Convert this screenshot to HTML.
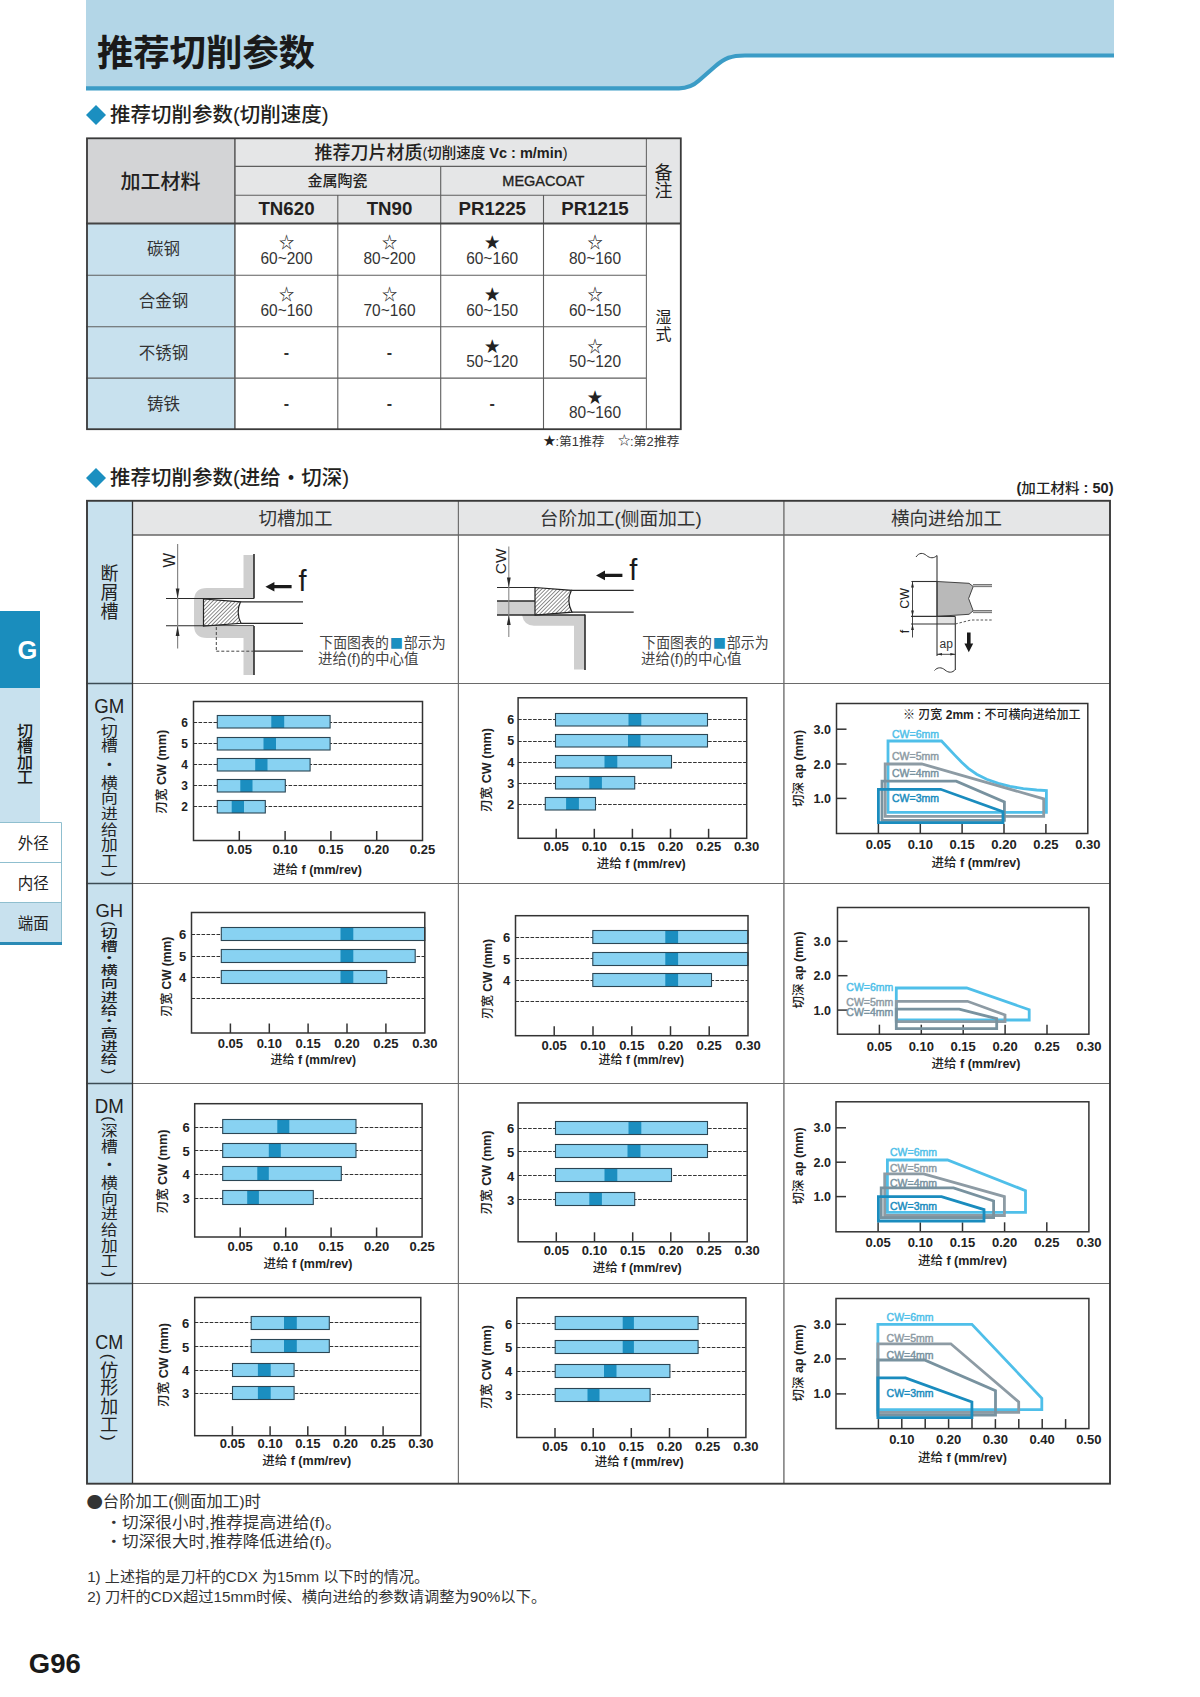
<!DOCTYPE html>
<html><head><meta charset="utf-8"><title>推荐切削参数</title>
<style>
html,body{margin:0;padding:0;background:#fff}
body{width:1200px;height:1697px;position:relative;overflow:hidden;font-family:"Liberation Sans", "Noto Sans CJK SC", sans-serif;color:#231f20}
</style></head><body>
<svg style="position:absolute;left:0;top:0" width="1200" height="1697" viewBox="0 0 1200 1697">
<path d="M86 0 H1114 V55 H745 C731 55 725 58 715 66 L699 80 C693 86 687 88 679 88 H86 Z" fill="#b3d6e7"/>
<path d="M86 88.3 H679 C687 88.3 693 86 699 80.5 L715 66.5 C725 58 731 55.5 745 55.5 H1114" fill="none" stroke="#3b9cc6" stroke-width="4.2"/>
<path d="M96 105 L106 115 L96 125 L86 115 Z" fill="#1b8fc0"/>
<path d="M96 468 L106 478 L96 488 L86 478 Z" fill="#1b8fc0"/>
<rect x="86" y="138" width="149" height="86" fill="#d3d4d6" />
<rect x="235" y="138" width="446" height="86" fill="#e5e6e7" />
<rect x="86" y="223" width="149" height="206" fill="#c8e1ee" />
<line x1="234.9" y1="138" x2="234.9" y2="429" stroke="#555" stroke-width="1.5" />
<line x1="235" y1="166.4" x2="646" y2="166.4" stroke="#5e5e5e" stroke-width="1.1" />
<line x1="235" y1="195.3" x2="646" y2="195.3" stroke="#5e5e5e" stroke-width="1.1" />
<line x1="440.7" y1="166" x2="440.7" y2="429" stroke="#5e5e5e" stroke-width="1.1" />
<line x1="337.8" y1="195" x2="337.8" y2="429" stroke="#5e5e5e" stroke-width="1.1" />
<line x1="543.5" y1="195" x2="543.5" y2="429" stroke="#5e5e5e" stroke-width="1.1" />
<line x1="646.4" y1="138" x2="646.4" y2="429" stroke="#6a6a6a" stroke-width="1.1" />
<line x1="86" y1="223.5" x2="681" y2="223.5" stroke="#444" stroke-width="1.8" />
<line x1="86" y1="275.3" x2="646" y2="275.3" stroke="#5e5e5e" stroke-width="1.1" />
<line x1="86" y1="326.8" x2="646" y2="326.8" stroke="#5e5e5e" stroke-width="1.1" />
<line x1="86" y1="378.1" x2="646" y2="378.1" stroke="#5e5e5e" stroke-width="1.1" />
<rect x="87" y="138.3" width="593.8" height="290.9" fill="none" stroke="#3a3a3a" stroke-width="1.8"/>
<text x="160.5" y="181.5" font-size="20" font-weight="500" text-anchor="middle" dominant-baseline="central" fill="#231f20" >加工材料</text>
<text x="441.0" y="153.0" font-size="18" font-weight="500" text-anchor="middle" dominant-baseline="central" fill="#231f20"  textLength="253" lengthAdjust="spacingAndGlyphs">推荐刀片材质<tspan font-size="14.5">(切削速度 <tspan font-weight="700">Vc : m/min</tspan>)</tspan></text>
<text x="337.5" y="180.5" font-size="15" font-weight="500" text-anchor="middle" dominant-baseline="central" fill="#231f20" >金属陶瓷</text>
<text x="543.3" y="180.8" font-size="14.5" font-weight="400" text-anchor="middle" dominant-baseline="central" fill="#231f20"  stroke="#231f20" stroke-width="0.35">MEGACOAT</text>
<text x="286.5" y="208.5" font-size="18.7" font-weight="700" text-anchor="middle" dominant-baseline="central" fill="#231f20" >TN620</text>
<text x="389.5" y="208.5" font-size="18.7" font-weight="700" text-anchor="middle" dominant-baseline="central" fill="#231f20" >TN90</text>
<text x="492.2" y="208.5" font-size="18.7" font-weight="700" text-anchor="middle" dominant-baseline="central" fill="#231f20" >PR1225</text>
<text x="595.0" y="208.5" font-size="18.7" font-weight="700" text-anchor="middle" dominant-baseline="central" fill="#231f20" >PR1215</text>
<text x="663.5" y="173.3" font-size="18" font-weight="400" text-anchor="middle" dominant-baseline="central" fill="#231f20" >备</text>
<text x="663.5" y="191.3" font-size="18" font-weight="400" text-anchor="middle" dominant-baseline="central" fill="#231f20" >注</text>
<text x="663.5" y="317.0" font-size="16" font-weight="400" text-anchor="middle" dominant-baseline="central" fill="#231f20" >湿</text>
<text x="663.5" y="334.0" font-size="16" font-weight="400" text-anchor="middle" dominant-baseline="central" fill="#231f20" >式</text>
<text x="163.5" y="249.4" font-size="16.5" font-weight="400" text-anchor="middle" dominant-baseline="central" fill="#333" >碳钢</text>
<text x="286.5" y="242.9" font-size="15.5" font-weight="400" text-anchor="middle" dominant-baseline="central" fill="#222" >☆</text>
<text x="286.5" y="257.9" font-size="16.5" font-weight="400" text-anchor="middle" dominant-baseline="central" fill="#333"  textLength="52" lengthAdjust="spacingAndGlyphs">60~200</text>
<text x="389.5" y="242.9" font-size="15.5" font-weight="400" text-anchor="middle" dominant-baseline="central" fill="#222" >☆</text>
<text x="389.5" y="257.9" font-size="16.5" font-weight="400" text-anchor="middle" dominant-baseline="central" fill="#333"  textLength="52" lengthAdjust="spacingAndGlyphs">80~200</text>
<text x="492.2" y="242.9" font-size="15.5" font-weight="400" text-anchor="middle" dominant-baseline="central" fill="#222" >★</text>
<text x="492.2" y="257.9" font-size="16.5" font-weight="400" text-anchor="middle" dominant-baseline="central" fill="#333"  textLength="52" lengthAdjust="spacingAndGlyphs">60~160</text>
<text x="595.0" y="242.9" font-size="15.5" font-weight="400" text-anchor="middle" dominant-baseline="central" fill="#222" >☆</text>
<text x="595.0" y="257.9" font-size="16.5" font-weight="400" text-anchor="middle" dominant-baseline="central" fill="#333"  textLength="52" lengthAdjust="spacingAndGlyphs">80~160</text>
<text x="163.5" y="301.1" font-size="16.5" font-weight="400" text-anchor="middle" dominant-baseline="central" fill="#333" >合金钢</text>
<text x="286.5" y="294.6" font-size="15.5" font-weight="400" text-anchor="middle" dominant-baseline="central" fill="#222" >☆</text>
<text x="286.5" y="309.6" font-size="16.5" font-weight="400" text-anchor="middle" dominant-baseline="central" fill="#333"  textLength="52" lengthAdjust="spacingAndGlyphs">60~160</text>
<text x="389.5" y="294.6" font-size="15.5" font-weight="400" text-anchor="middle" dominant-baseline="central" fill="#222" >☆</text>
<text x="389.5" y="309.6" font-size="16.5" font-weight="400" text-anchor="middle" dominant-baseline="central" fill="#333"  textLength="52" lengthAdjust="spacingAndGlyphs">70~160</text>
<text x="492.2" y="294.6" font-size="15.5" font-weight="400" text-anchor="middle" dominant-baseline="central" fill="#222" >★</text>
<text x="492.2" y="309.6" font-size="16.5" font-weight="400" text-anchor="middle" dominant-baseline="central" fill="#333"  textLength="52" lengthAdjust="spacingAndGlyphs">60~150</text>
<text x="595.0" y="294.6" font-size="15.5" font-weight="400" text-anchor="middle" dominant-baseline="central" fill="#222" >☆</text>
<text x="595.0" y="309.6" font-size="16.5" font-weight="400" text-anchor="middle" dominant-baseline="central" fill="#333"  textLength="52" lengthAdjust="spacingAndGlyphs">60~150</text>
<text x="163.5" y="352.5" font-size="16.5" font-weight="400" text-anchor="middle" dominant-baseline="central" fill="#333" >不锈钢</text>
<text x="286.5" y="352.5" font-size="16" font-weight="700" text-anchor="middle" dominant-baseline="central" fill="#333" >-</text>
<text x="389.5" y="352.5" font-size="16" font-weight="700" text-anchor="middle" dominant-baseline="central" fill="#333" >-</text>
<text x="492.2" y="346.0" font-size="15.5" font-weight="400" text-anchor="middle" dominant-baseline="central" fill="#222" >★</text>
<text x="492.2" y="361.0" font-size="16.5" font-weight="400" text-anchor="middle" dominant-baseline="central" fill="#333"  textLength="52" lengthAdjust="spacingAndGlyphs">50~120</text>
<text x="595.0" y="346.0" font-size="15.5" font-weight="400" text-anchor="middle" dominant-baseline="central" fill="#222" >☆</text>
<text x="595.0" y="361.0" font-size="16.5" font-weight="400" text-anchor="middle" dominant-baseline="central" fill="#333"  textLength="52" lengthAdjust="spacingAndGlyphs">50~120</text>
<text x="163.5" y="403.6" font-size="16.5" font-weight="400" text-anchor="middle" dominant-baseline="central" fill="#333" >铸铁</text>
<text x="286.5" y="403.6" font-size="16" font-weight="700" text-anchor="middle" dominant-baseline="central" fill="#333" >-</text>
<text x="389.5" y="403.6" font-size="16" font-weight="700" text-anchor="middle" dominant-baseline="central" fill="#333" >-</text>
<text x="492.2" y="403.6" font-size="16" font-weight="700" text-anchor="middle" dominant-baseline="central" fill="#333" >-</text>
<text x="595.0" y="397.1" font-size="15.5" font-weight="400" text-anchor="middle" dominant-baseline="central" fill="#222" >★</text>
<text x="595.0" y="412.1" font-size="16.5" font-weight="400" text-anchor="middle" dominant-baseline="central" fill="#333"  textLength="52" lengthAdjust="spacingAndGlyphs">80~160</text>
<text x="549.6" y="441.2" font-size="12.5" font-weight="400" text-anchor="middle" dominant-baseline="central" fill="#222" >★</text>
<text x="555.5" y="442.0" font-size="12.5" font-weight="400" text-anchor="start" dominant-baseline="central" fill="#333"  textLength="49" lengthAdjust="spacingAndGlyphs">:第1推荐</text>
<text x="624.3" y="441.2" font-size="12.5" font-weight="400" text-anchor="middle" dominant-baseline="central" fill="#222" >☆</text>
<text x="630.0" y="442.0" font-size="12.5" font-weight="400" text-anchor="start" dominant-baseline="central" fill="#333"  textLength="49.5" lengthAdjust="spacingAndGlyphs">:第2推荐</text>
<rect x="86" y="500" width="47" height="983" fill="#c8e1ee" />
<rect x="133" y="500" width="977" height="35" fill="#e5e6e7" />
<line x1="458.4" y1="500" x2="458.4" y2="1483" stroke="#707070" stroke-width="1.2" />
<line x1="783.9" y1="500" x2="783.9" y2="1483" stroke="#707070" stroke-width="1.4" />
<line x1="133" y1="534.9" x2="1110" y2="534.9" stroke="#666" stroke-width="1.5" />
<line x1="133" y1="683.5" x2="1110" y2="683.5" stroke="#6a6a6a" stroke-width="1.2" />
<line x1="86" y1="683.5" x2="133" y2="683.5" stroke="#3c4c54" stroke-width="1.3" />
<line x1="133" y1="883.5" x2="1110" y2="883.5" stroke="#6a6a6a" stroke-width="1.2" />
<line x1="86" y1="883.5" x2="133" y2="883.5" stroke="#3c4c54" stroke-width="1.3" />
<line x1="133" y1="1083.5" x2="1110" y2="1083.5" stroke="#6a6a6a" stroke-width="1.2" />
<line x1="86" y1="1083.5" x2="133" y2="1083.5" stroke="#3c4c54" stroke-width="1.3" />
<line x1="133" y1="1283.5" x2="1110" y2="1283.5" stroke="#6a6a6a" stroke-width="1.2" />
<line x1="86" y1="1283.5" x2="133" y2="1283.5" stroke="#3c4c54" stroke-width="1.3" />
<line x1="132.5" y1="500" x2="132.5" y2="1483" stroke="#333" stroke-width="1.3" />
<text x="295.5" y="518.5" font-size="18.5" font-weight="400" text-anchor="middle" dominant-baseline="central" fill="#333" >切槽加工</text>
<text x="620.8" y="518.5" font-size="18.5" font-weight="400" text-anchor="middle" dominant-baseline="central" fill="#333"  textLength="162" lengthAdjust="spacingAndGlyphs">台阶加工(侧面加工)</text>
<text x="946.5" y="518.5" font-size="18.5" font-weight="400" text-anchor="middle" dominant-baseline="central" fill="#333" >横向进给加工</text>
<text x="1113.5" y="488.0" font-size="14" font-weight="700" text-anchor="end" dominant-baseline="central" fill="#222"  textLength="97" lengthAdjust="spacingAndGlyphs">(<tspan font-weight="500">加工材料</tspan> : 50)</text>
<line x1="193.5" y1="722.5" x2="422.5" y2="722.5" stroke="#333333" stroke-width="1.2" stroke-dasharray="3.6 1.4"/>
<line x1="193.5" y1="743.5" x2="422.5" y2="743.5" stroke="#333333" stroke-width="1.2" stroke-dasharray="3.6 1.4"/>
<line x1="193.5" y1="764.5" x2="422.5" y2="764.5" stroke="#333333" stroke-width="1.2" stroke-dasharray="3.6 1.4"/>
<line x1="193.5" y1="785.5" x2="422.5" y2="785.5" stroke="#333333" stroke-width="1.2" stroke-dasharray="3.6 1.4"/>
<line x1="193.5" y1="806.5" x2="422.5" y2="806.5" stroke="#333333" stroke-width="1.2" stroke-dasharray="3.6 1.4"/>
<rect x="217.3" y="715.5" width="112.8" height="12.5" fill="#88d2f2" />
<rect x="271.3" y="715.5" width="12.9" height="12.5" fill="#1b8ec0" />
<rect x="217.3" y="715.5" width="112.8" height="12.5" fill="none" stroke="#2b4654" stroke-width="1.1"/>
<text x="184.5" y="722.7" font-size="12" font-weight="700" text-anchor="middle" dominant-baseline="central" fill="#222" >6</text>
<rect x="217.3" y="737.5" width="112.8" height="12.5" fill="#88d2f2" />
<rect x="263.5" y="737.5" width="12.5" height="12.5" fill="#1b8ec0" />
<rect x="217.3" y="737.5" width="112.8" height="12.5" fill="none" stroke="#2b4654" stroke-width="1.1"/>
<text x="184.5" y="744.1" font-size="12" font-weight="700" text-anchor="middle" dominant-baseline="central" fill="#222" >5</text>
<rect x="217.3" y="758.5" width="92.8" height="12.5" fill="#88d2f2" />
<rect x="255.2" y="758.5" width="12.3" height="12.5" fill="#1b8ec0" />
<rect x="217.3" y="758.5" width="92.8" height="12.5" fill="none" stroke="#2b4654" stroke-width="1.1"/>
<text x="184.5" y="765.2" font-size="12" font-weight="700" text-anchor="middle" dominant-baseline="central" fill="#222" >4</text>
<rect x="217.3" y="779.5" width="68.0" height="12.5" fill="#88d2f2" />
<rect x="240.3" y="779.5" width="12.2" height="12.5" fill="#1b8ec0" />
<rect x="217.3" y="779.5" width="68.0" height="12.5" fill="none" stroke="#2b4654" stroke-width="1.1"/>
<text x="184.5" y="786.2" font-size="12" font-weight="700" text-anchor="middle" dominant-baseline="central" fill="#222" >3</text>
<rect x="217.3" y="800.5" width="48.0" height="12.5" fill="#88d2f2" />
<rect x="231.7" y="800.5" width="12.3" height="12.5" fill="#1b8ec0" />
<rect x="217.3" y="800.5" width="48.0" height="12.5" fill="none" stroke="#2b4654" stroke-width="1.1"/>
<text x="184.5" y="807.3" font-size="12" font-weight="700" text-anchor="middle" dominant-baseline="central" fill="#222" >2</text>
<rect x="193.5" y="701.5" width="229.0" height="139.0" fill="none" stroke="#333333" stroke-width="1.5"/>
<line x1="239.3" y1="840.5" x2="239.3" y2="831.0" stroke="#333333" stroke-width="1.5" />
<line x1="285.1" y1="840.5" x2="285.1" y2="831.0" stroke="#333333" stroke-width="1.5" />
<line x1="330.9" y1="840.5" x2="330.9" y2="831.0" stroke="#333333" stroke-width="1.5" />
<line x1="376.7" y1="840.5" x2="376.7" y2="831.0" stroke="#333333" stroke-width="1.5" />
<text x="239.3" y="849.0" font-size="13" font-weight="700" text-anchor="middle" dominant-baseline="central" fill="#222" >0.05</text>
<text x="285.1" y="849.0" font-size="13" font-weight="700" text-anchor="middle" dominant-baseline="central" fill="#222" >0.10</text>
<text x="330.9" y="849.0" font-size="13" font-weight="700" text-anchor="middle" dominant-baseline="central" fill="#222" >0.15</text>
<text x="376.7" y="849.0" font-size="13" font-weight="700" text-anchor="middle" dominant-baseline="central" fill="#222" >0.20</text>
<text x="422.5" y="849.0" font-size="13" font-weight="700" text-anchor="middle" dominant-baseline="central" fill="#222" >0.25</text>
<text x="317.5" y="869.5" font-size="12.5" font-weight="700" text-anchor="middle" dominant-baseline="central" fill="#222" ><tspan font-weight="500">进给</tspan> f (mm/rev)</text>
<text x="162.0" y="771.8" font-size="12.5" font-weight="700" text-anchor="middle" dominant-baseline="central" fill="#222" transform="rotate(-90 162 771.8)" textLength="84" lengthAdjust="spacingAndGlyphs"><tspan font-weight="500">刃宽</tspan> CW (mm)</text>
<line x1="518.1" y1="719.5" x2="746.7" y2="719.5" stroke="#333333" stroke-width="1.2" stroke-dasharray="3.6 1.4"/>
<line x1="518.1" y1="741.5" x2="746.7" y2="741.5" stroke="#333333" stroke-width="1.2" stroke-dasharray="3.6 1.4"/>
<line x1="518.1" y1="762.5" x2="746.7" y2="762.5" stroke="#333333" stroke-width="1.2" stroke-dasharray="3.6 1.4"/>
<line x1="518.1" y1="783.5" x2="746.7" y2="783.5" stroke="#333333" stroke-width="1.2" stroke-dasharray="3.6 1.4"/>
<line x1="518.1" y1="804.5" x2="746.7" y2="804.5" stroke="#333333" stroke-width="1.2" stroke-dasharray="3.6 1.4"/>
<rect x="555.5" y="713.5" width="152.0" height="12.5" fill="#88d2f2" />
<rect x="628.5" y="713.5" width="12.8" height="12.5" fill="#1b8ec0" />
<rect x="555.5" y="713.5" width="152.0" height="12.5" fill="none" stroke="#2b4654" stroke-width="1.1"/>
<text x="510.7" y="720.1" font-size="12.5" font-weight="700" text-anchor="middle" dominant-baseline="central" fill="#222" >6</text>
<rect x="555.5" y="734.5" width="152.0" height="12.5" fill="#88d2f2" />
<rect x="628.0" y="734.5" width="12.5" height="12.5" fill="#1b8ec0" />
<rect x="555.5" y="734.5" width="152.0" height="12.5" fill="none" stroke="#2b4654" stroke-width="1.1"/>
<text x="510.7" y="741.4" font-size="12.5" font-weight="700" text-anchor="middle" dominant-baseline="central" fill="#222" >5</text>
<rect x="555.5" y="755.5" width="116.0" height="12.5" fill="#88d2f2" />
<rect x="604.5" y="755.5" width="12.8" height="12.5" fill="#1b8ec0" />
<rect x="555.5" y="755.5" width="116.0" height="12.5" fill="none" stroke="#2b4654" stroke-width="1.1"/>
<text x="510.7" y="762.7" font-size="12.5" font-weight="700" text-anchor="middle" dominant-baseline="central" fill="#222" >4</text>
<rect x="555.5" y="776.5" width="79.2" height="12.5" fill="#88d2f2" />
<rect x="589.3" y="776.5" width="12.6" height="12.5" fill="#1b8ec0" />
<rect x="555.5" y="776.5" width="79.2" height="12.5" fill="none" stroke="#2b4654" stroke-width="1.1"/>
<text x="510.7" y="783.5" font-size="12.5" font-weight="700" text-anchor="middle" dominant-baseline="central" fill="#222" >3</text>
<rect x="545.3" y="797.5" width="50.2" height="12.5" fill="#88d2f2" />
<rect x="566.1" y="797.5" width="12.8" height="12.5" fill="#1b8ec0" />
<rect x="545.3" y="797.5" width="50.2" height="12.5" fill="none" stroke="#2b4654" stroke-width="1.1"/>
<text x="510.7" y="804.6" font-size="12.5" font-weight="700" text-anchor="middle" dominant-baseline="central" fill="#222" >2</text>
<rect x="518.1" y="697.8" width="228.6" height="140.5" fill="none" stroke="#333333" stroke-width="1.5"/>
<line x1="556.2" y1="838.3" x2="556.2" y2="828.8" stroke="#333333" stroke-width="1.5" />
<line x1="594.3" y1="838.3" x2="594.3" y2="828.8" stroke="#333333" stroke-width="1.5" />
<line x1="632.4" y1="838.3" x2="632.4" y2="828.8" stroke="#333333" stroke-width="1.5" />
<line x1="670.5" y1="838.3" x2="670.5" y2="828.8" stroke="#333333" stroke-width="1.5" />
<line x1="708.6" y1="838.3" x2="708.6" y2="828.8" stroke="#333333" stroke-width="1.5" />
<text x="556.2" y="846.3" font-size="13" font-weight="700" text-anchor="middle" dominant-baseline="central" fill="#222" >0.05</text>
<text x="594.3" y="846.3" font-size="13" font-weight="700" text-anchor="middle" dominant-baseline="central" fill="#222" >0.10</text>
<text x="632.4" y="846.3" font-size="13" font-weight="700" text-anchor="middle" dominant-baseline="central" fill="#222" >0.15</text>
<text x="670.5" y="846.3" font-size="13" font-weight="700" text-anchor="middle" dominant-baseline="central" fill="#222" >0.20</text>
<text x="708.6" y="846.3" font-size="13" font-weight="700" text-anchor="middle" dominant-baseline="central" fill="#222" >0.25</text>
<text x="746.7" y="846.3" font-size="13" font-weight="700" text-anchor="middle" dominant-baseline="central" fill="#222" >0.30</text>
<text x="641.3" y="863.7" font-size="12.5" font-weight="700" text-anchor="middle" dominant-baseline="central" fill="#222" ><tspan font-weight="500">进给</tspan> f (mm/rev)</text>
<text x="486.7" y="770.0" font-size="12.5" font-weight="700" text-anchor="middle" dominant-baseline="central" fill="#222" transform="rotate(-90 486.7 770)" textLength="84" lengthAdjust="spacingAndGlyphs"><tspan font-weight="500">刃宽</tspan> CW (mm)</text>
<rect x="836.5" y="703.5" width="251.3" height="130.0" fill="none" stroke="#333333" stroke-width="1.5"/>
<line x1="878.4" y1="833.5" x2="878.4" y2="824.0" stroke="#333333" stroke-width="1.5" />
<line x1="920.3" y1="833.5" x2="920.3" y2="824.0" stroke="#333333" stroke-width="1.5" />
<line x1="962.1" y1="833.5" x2="962.1" y2="824.0" stroke="#333333" stroke-width="1.5" />
<line x1="1004.0" y1="833.5" x2="1004.0" y2="824.0" stroke="#333333" stroke-width="1.5" />
<line x1="1045.9" y1="833.5" x2="1045.9" y2="824.0" stroke="#333333" stroke-width="1.5" />
<line x1="836.5" y1="729.2" x2="846.5" y2="729.2" stroke="#333333" stroke-width="1.5" />
<text x="831.0" y="729.7" font-size="12.5" font-weight="700" text-anchor="end" dominant-baseline="central" fill="#222" >3.0</text>
<line x1="836.5" y1="764.0" x2="846.5" y2="764.0" stroke="#333333" stroke-width="1.5" />
<text x="831.0" y="764.5" font-size="12.5" font-weight="700" text-anchor="end" dominant-baseline="central" fill="#222" >2.0</text>
<line x1="836.5" y1="798.4" x2="846.5" y2="798.4" stroke="#333333" stroke-width="1.5" />
<text x="831.0" y="798.9" font-size="12.5" font-weight="700" text-anchor="end" dominant-baseline="central" fill="#222" >1.0</text>
<polygon points="888.0,741.0 941.5,741.0 948.3,748.2 955.0,755.4 961.7,762.3 968.3,768.4 976.7,774.2 986.7,779.2 998.3,783.3 1010.0,786.3 1023.3,788.7 1036.7,790.0 1046.4,790.6 1046.4,812.3 888.0,812.3" fill="none" stroke="#4fbfe9" stroke-width="2.8" stroke-linejoin="miter"/>
<polygon points="885.2,764.0 921.8,764.0 1043.7,798.8 1043.7,816.4 885.2,816.4" fill="none" stroke="#8d9ba4" stroke-width="2.8" stroke-linejoin="miter"/>
<polygon points="882.0,781.2 956.2,781.2 1004.4,802.0 1004.4,820.4 882.0,820.4" fill="none" stroke="#78929f" stroke-width="2.8" stroke-linejoin="miter"/>
<polygon points="878.4,789.3 940.7,789.3 1003.0,811.8 1003.0,822.6 878.4,822.6" fill="none" stroke="#1a8cbe" stroke-width="2.8" stroke-linejoin="miter"/>
<text x="892.0" y="733.8" font-size="10.5" font-weight="500" text-anchor="start" dominant-baseline="central" fill="#4fbfe9"  stroke="#4fbfe9" stroke-width="0.45">CW=6mm</text>
<text x="892.0" y="756.0" font-size="10.5" font-weight="500" text-anchor="start" dominant-baseline="central" fill="#8d9ba4"  stroke="#8d9ba4" stroke-width="0.45">CW=5mm</text>
<text x="892.0" y="772.5" font-size="10.5" font-weight="500" text-anchor="start" dominant-baseline="central" fill="#78929f"  stroke="#78929f" stroke-width="0.45">CW=4mm</text>
<text x="892.0" y="798.2" font-size="10.5" font-weight="500" text-anchor="start" dominant-baseline="central" fill="#1a8cbe"  stroke="#1a8cbe" stroke-width="0.45">CW=3mm</text>
<text x="878.4" y="844.8" font-size="13" font-weight="700" text-anchor="middle" dominant-baseline="central" fill="#222" >0.05</text>
<text x="920.3" y="844.8" font-size="13" font-weight="700" text-anchor="middle" dominant-baseline="central" fill="#222" >0.10</text>
<text x="962.1" y="844.8" font-size="13" font-weight="700" text-anchor="middle" dominant-baseline="central" fill="#222" >0.15</text>
<text x="1004.0" y="844.8" font-size="13" font-weight="700" text-anchor="middle" dominant-baseline="central" fill="#222" >0.20</text>
<text x="1045.9" y="844.8" font-size="13" font-weight="700" text-anchor="middle" dominant-baseline="central" fill="#222" >0.25</text>
<text x="1087.8" y="844.8" font-size="13" font-weight="700" text-anchor="middle" dominant-baseline="central" fill="#222" >0.30</text>
<text x="976.0" y="863.0" font-size="12.5" font-weight="700" text-anchor="middle" dominant-baseline="central" fill="#222" ><tspan font-weight="500">进给</tspan> f (mm/rev)</text>
<text x="799.0" y="768.5" font-size="12.5" font-weight="700" text-anchor="middle" dominant-baseline="central" fill="#222" transform="rotate(-90 799 768.5)"><tspan font-weight="500">切深</tspan> ap (mm)</text>
<text x="903.0" y="715.0" font-size="12" font-weight="500" text-anchor="start" dominant-baseline="central" fill="#222" >※ <tspan font-weight="500">刃宽</tspan> <tspan font-weight="700">2mm :</tspan> 不可横向进给加工</text>
<line x1="191.5" y1="934.5" x2="424.8" y2="934.5" stroke="#333333" stroke-width="1.2" stroke-dasharray="3.6 1.4"/>
<line x1="191.5" y1="956.5" x2="424.8" y2="956.5" stroke="#333333" stroke-width="1.2" stroke-dasharray="3.6 1.4"/>
<line x1="191.5" y1="977.5" x2="424.8" y2="977.5" stroke="#333333" stroke-width="1.2" stroke-dasharray="3.6 1.4"/>
<line x1="191.5" y1="998.5" x2="424.8" y2="998.5" stroke="#333333" stroke-width="1.2" stroke-dasharray="3.6 1.4"/>
<rect x="221.3" y="927.5" width="203.5" height="13" fill="#88d2f2" />
<rect x="340.5" y="927.5" width="12.8" height="13" fill="#1b8ec0" />
<rect x="221.3" y="927.5" width="203.5" height="13" fill="none" stroke="#2b4654" stroke-width="1.1"/>
<text x="182.7" y="934.7" font-size="13" font-weight="700" text-anchor="middle" dominant-baseline="central" fill="#222" >6</text>
<rect x="221.3" y="949.5" width="193.9" height="13" fill="#88d2f2" />
<rect x="340.5" y="949.5" width="12.8" height="13" fill="#1b8ec0" />
<rect x="221.3" y="949.5" width="193.9" height="13" fill="none" stroke="#2b4654" stroke-width="1.1"/>
<text x="182.7" y="956.6" font-size="13" font-weight="700" text-anchor="middle" dominant-baseline="central" fill="#222" >5</text>
<rect x="221.3" y="970.5" width="165.4" height="13" fill="#88d2f2" />
<rect x="340.5" y="970.5" width="12.8" height="13" fill="#1b8ec0" />
<rect x="221.3" y="970.5" width="165.4" height="13" fill="none" stroke="#2b4654" stroke-width="1.1"/>
<text x="182.7" y="977.9" font-size="13" font-weight="700" text-anchor="middle" dominant-baseline="central" fill="#222" >4</text>
<rect x="191.5" y="912.5" width="233.3" height="120.5" fill="none" stroke="#333333" stroke-width="1.5"/>
<line x1="230.4" y1="1033" x2="230.4" y2="1023.5" stroke="#333333" stroke-width="1.5" />
<line x1="269.3" y1="1033" x2="269.3" y2="1023.5" stroke="#333333" stroke-width="1.5" />
<line x1="308.1" y1="1033" x2="308.1" y2="1023.5" stroke="#333333" stroke-width="1.5" />
<line x1="347.0" y1="1033" x2="347.0" y2="1023.5" stroke="#333333" stroke-width="1.5" />
<line x1="385.9" y1="1033" x2="385.9" y2="1023.5" stroke="#333333" stroke-width="1.5" />
<text x="230.4" y="1043.7" font-size="13" font-weight="700" text-anchor="middle" dominant-baseline="central" fill="#222" >0.05</text>
<text x="269.3" y="1043.7" font-size="13" font-weight="700" text-anchor="middle" dominant-baseline="central" fill="#222" >0.10</text>
<text x="308.1" y="1043.7" font-size="13" font-weight="700" text-anchor="middle" dominant-baseline="central" fill="#222" >0.15</text>
<text x="347.0" y="1043.7" font-size="13" font-weight="700" text-anchor="middle" dominant-baseline="central" fill="#222" >0.20</text>
<text x="385.9" y="1043.7" font-size="13" font-weight="700" text-anchor="middle" dominant-baseline="central" fill="#222" >0.25</text>
<text x="424.8" y="1043.7" font-size="13" font-weight="700" text-anchor="middle" dominant-baseline="central" fill="#222" >0.30</text>
<text x="313.3" y="1059.7" font-size="12" font-weight="700" text-anchor="middle" dominant-baseline="central" fill="#222" ><tspan font-weight="500">进给</tspan> f (mm/rev)</text>
<text x="166.7" y="976.8" font-size="12" font-weight="700" text-anchor="middle" dominant-baseline="central" fill="#222" transform="rotate(-90 166.7 976.8)"><tspan font-weight="500">刃宽</tspan> CW (mm)</text>
<line x1="515.5" y1="937.5" x2="748" y2="937.5" stroke="#333333" stroke-width="1.2" stroke-dasharray="3.6 1.4"/>
<line x1="515.5" y1="958.5" x2="748" y2="958.5" stroke="#333333" stroke-width="1.2" stroke-dasharray="3.6 1.4"/>
<line x1="515.5" y1="980.5" x2="748" y2="980.5" stroke="#333333" stroke-width="1.2" stroke-dasharray="3.6 1.4"/>
<line x1="515.5" y1="1001.5" x2="748" y2="1001.5" stroke="#333333" stroke-width="1.2" stroke-dasharray="3.6 1.4"/>
<rect x="592.8" y="930.5" width="155.2" height="13" fill="#88d2f2" />
<rect x="665.3" y="930.5" width="12.8" height="13" fill="#1b8ec0" />
<rect x="592.8" y="930.5" width="155.2" height="13" fill="none" stroke="#2b4654" stroke-width="1.1"/>
<text x="506.5" y="937.4" font-size="13" font-weight="700" text-anchor="middle" dominant-baseline="central" fill="#222" >6</text>
<rect x="592.8" y="952.5" width="155.2" height="13" fill="#88d2f2" />
<rect x="665.3" y="952.5" width="12.8" height="13" fill="#1b8ec0" />
<rect x="592.8" y="952.5" width="155.2" height="13" fill="none" stroke="#2b4654" stroke-width="1.1"/>
<text x="506.5" y="959.3" font-size="13" font-weight="700" text-anchor="middle" dominant-baseline="central" fill="#222" >5</text>
<rect x="592.8" y="973.5" width="118.7" height="13" fill="#88d2f2" />
<rect x="665.3" y="973.5" width="12.8" height="13" fill="#1b8ec0" />
<rect x="592.8" y="973.5" width="118.7" height="13" fill="none" stroke="#2b4654" stroke-width="1.1"/>
<text x="506.5" y="980.6" font-size="13" font-weight="700" text-anchor="middle" dominant-baseline="central" fill="#222" >4</text>
<rect x="515.5" y="915.7" width="232.5" height="120.0" fill="none" stroke="#333333" stroke-width="1.5"/>
<line x1="554.2" y1="1035.7" x2="554.2" y2="1026.2" stroke="#333333" stroke-width="1.5" />
<line x1="593.0" y1="1035.7" x2="593.0" y2="1026.2" stroke="#333333" stroke-width="1.5" />
<line x1="631.8" y1="1035.7" x2="631.8" y2="1026.2" stroke="#333333" stroke-width="1.5" />
<line x1="670.5" y1="1035.7" x2="670.5" y2="1026.2" stroke="#333333" stroke-width="1.5" />
<line x1="709.2" y1="1035.7" x2="709.2" y2="1026.2" stroke="#333333" stroke-width="1.5" />
<text x="554.2" y="1045.0" font-size="13" font-weight="700" text-anchor="middle" dominant-baseline="central" fill="#222" >0.05</text>
<text x="593.0" y="1045.0" font-size="13" font-weight="700" text-anchor="middle" dominant-baseline="central" fill="#222" >0.10</text>
<text x="631.8" y="1045.0" font-size="13" font-weight="700" text-anchor="middle" dominant-baseline="central" fill="#222" >0.15</text>
<text x="670.5" y="1045.0" font-size="13" font-weight="700" text-anchor="middle" dominant-baseline="central" fill="#222" >0.20</text>
<text x="709.2" y="1045.0" font-size="13" font-weight="700" text-anchor="middle" dominant-baseline="central" fill="#222" >0.25</text>
<text x="748.0" y="1045.0" font-size="13" font-weight="700" text-anchor="middle" dominant-baseline="central" fill="#222" >0.30</text>
<text x="641.3" y="1059.7" font-size="12" font-weight="700" text-anchor="middle" dominant-baseline="central" fill="#222" ><tspan font-weight="500">进给</tspan> f (mm/rev)</text>
<text x="487.5" y="979.0" font-size="12" font-weight="700" text-anchor="middle" dominant-baseline="central" fill="#222" transform="rotate(-90 487.5 979)"><tspan font-weight="500">刃宽</tspan> CW (mm)</text>
<rect x="837.5" y="907.5" width="251.4" height="126.7" fill="none" stroke="#333333" stroke-width="1.5"/>
<line x1="879.4" y1="1034.2" x2="879.4" y2="1024.7" stroke="#333333" stroke-width="1.5" />
<line x1="921.3" y1="1034.2" x2="921.3" y2="1024.7" stroke="#333333" stroke-width="1.5" />
<line x1="963.2" y1="1034.2" x2="963.2" y2="1024.7" stroke="#333333" stroke-width="1.5" />
<line x1="1005.1" y1="1034.2" x2="1005.1" y2="1024.7" stroke="#333333" stroke-width="1.5" />
<line x1="1047.0" y1="1034.2" x2="1047.0" y2="1024.7" stroke="#333333" stroke-width="1.5" />
<line x1="837.5" y1="941.3" x2="847.5" y2="941.3" stroke="#333333" stroke-width="1.5" />
<text x="831.0" y="941.8" font-size="12.5" font-weight="700" text-anchor="end" dominant-baseline="central" fill="#222" >3.0</text>
<line x1="837.5" y1="975.7" x2="847.5" y2="975.7" stroke="#333333" stroke-width="1.5" />
<text x="831.0" y="976.2" font-size="12.5" font-weight="700" text-anchor="end" dominant-baseline="central" fill="#222" >2.0</text>
<line x1="837.5" y1="1010.1" x2="847.5" y2="1010.1" stroke="#333333" stroke-width="1.5" />
<text x="831.0" y="1010.6" font-size="12.5" font-weight="700" text-anchor="end" dominant-baseline="central" fill="#222" >1.0</text>
<polygon points="896.3,988.0 966.7,988.0 1029.2,1009.7 1029.2,1020.0 896.3,1020.0" fill="none" stroke="#4fbfe9" stroke-width="2.8" stroke-linejoin="miter"/>
<polygon points="896.3,1001.3 967.5,1001.3 1005.0,1015.0 1005.0,1021.7 896.3,1021.7" fill="none" stroke="#8d9ba4" stroke-width="2.8" stroke-linejoin="miter"/>
<polygon points="896.3,1009.2 959.2,1009.2 996.7,1018.7 996.7,1028.7 896.3,1028.7" fill="none" stroke="#78929f" stroke-width="2.8" stroke-linejoin="miter"/>
<text x="893.3" y="987.4" font-size="10.5" font-weight="500" text-anchor="end" dominant-baseline="central" fill="#4fbfe9"  stroke="#4fbfe9" stroke-width="0.45">CW=6mm</text>
<text x="893.3" y="1002.3" font-size="10.5" font-weight="500" text-anchor="end" dominant-baseline="central" fill="#8d9ba4"  stroke="#8d9ba4" stroke-width="0.45">CW=5mm</text>
<text x="893.3" y="1011.8" font-size="10.5" font-weight="500" text-anchor="end" dominant-baseline="central" fill="#78929f"  stroke="#78929f" stroke-width="0.45">CW=4mm</text>
<text x="879.4" y="1046.5" font-size="13" font-weight="700" text-anchor="middle" dominant-baseline="central" fill="#222" >0.05</text>
<text x="921.3" y="1046.5" font-size="13" font-weight="700" text-anchor="middle" dominant-baseline="central" fill="#222" >0.10</text>
<text x="963.2" y="1046.5" font-size="13" font-weight="700" text-anchor="middle" dominant-baseline="central" fill="#222" >0.15</text>
<text x="1005.1" y="1046.5" font-size="13" font-weight="700" text-anchor="middle" dominant-baseline="central" fill="#222" >0.20</text>
<text x="1047.0" y="1046.5" font-size="13" font-weight="700" text-anchor="middle" dominant-baseline="central" fill="#222" >0.25</text>
<text x="1088.9" y="1046.5" font-size="13" font-weight="700" text-anchor="middle" dominant-baseline="central" fill="#222" >0.30</text>
<text x="976.0" y="1064.0" font-size="12.5" font-weight="700" text-anchor="middle" dominant-baseline="central" fill="#222" ><tspan font-weight="500">进给</tspan> f (mm/rev)</text>
<text x="799.0" y="970.0" font-size="12.5" font-weight="700" text-anchor="middle" dominant-baseline="central" fill="#222" transform="rotate(-90 799 970)"><tspan font-weight="500">切深</tspan> ap (mm)</text>
<line x1="194.7" y1="1127.5" x2="422.1" y2="1127.5" stroke="#333333" stroke-width="1.2" stroke-dasharray="3.6 1.4"/>
<line x1="194.7" y1="1150.5" x2="422.1" y2="1150.5" stroke="#333333" stroke-width="1.2" stroke-dasharray="3.6 1.4"/>
<line x1="194.7" y1="1174.5" x2="422.1" y2="1174.5" stroke="#333333" stroke-width="1.2" stroke-dasharray="3.6 1.4"/>
<line x1="194.7" y1="1198.5" x2="422.1" y2="1198.5" stroke="#333333" stroke-width="1.2" stroke-dasharray="3.6 1.4"/>
<rect x="222.7" y="1119.5" width="133.3" height="14" fill="#88d2f2" />
<rect x="277.3" y="1119.5" width="12.0" height="14" fill="#1b8ec0" />
<rect x="222.7" y="1119.5" width="133.3" height="14" fill="none" stroke="#2b4654" stroke-width="1.1"/>
<text x="186.0" y="1127.5" font-size="13" font-weight="700" text-anchor="middle" dominant-baseline="central" fill="#222" >6</text>
<rect x="222.7" y="1143.5" width="133.3" height="14" fill="#88d2f2" />
<rect x="268.8" y="1143.5" width="12.0" height="14" fill="#1b8ec0" />
<rect x="222.7" y="1143.5" width="133.3" height="14" fill="none" stroke="#2b4654" stroke-width="1.1"/>
<text x="186.0" y="1151.3" font-size="13" font-weight="700" text-anchor="middle" dominant-baseline="central" fill="#222" >5</text>
<rect x="222.7" y="1166.5" width="118.6" height="14" fill="#88d2f2" />
<rect x="257.3" y="1166.5" width="11.5" height="14" fill="#1b8ec0" />
<rect x="222.7" y="1166.5" width="118.6" height="14" fill="none" stroke="#2b4654" stroke-width="1.1"/>
<text x="186.0" y="1174.7" font-size="13" font-weight="700" text-anchor="middle" dominant-baseline="central" fill="#222" >4</text>
<rect x="222.7" y="1190.5" width="90.6" height="14" fill="#88d2f2" />
<rect x="247.2" y="1190.5" width="11.7" height="14" fill="#1b8ec0" />
<rect x="222.7" y="1190.5" width="90.6" height="14" fill="none" stroke="#2b4654" stroke-width="1.1"/>
<text x="186.0" y="1198.7" font-size="13" font-weight="700" text-anchor="middle" dominant-baseline="central" fill="#222" >3</text>
<rect x="194.7" y="1103.7" width="227.4" height="133.3" fill="none" stroke="#333333" stroke-width="1.5"/>
<line x1="240.2" y1="1237" x2="240.2" y2="1227.5" stroke="#333333" stroke-width="1.5" />
<line x1="285.7" y1="1237" x2="285.7" y2="1227.5" stroke="#333333" stroke-width="1.5" />
<line x1="331.1" y1="1237" x2="331.1" y2="1227.5" stroke="#333333" stroke-width="1.5" />
<line x1="376.6" y1="1237" x2="376.6" y2="1227.5" stroke="#333333" stroke-width="1.5" />
<text x="240.2" y="1246.3" font-size="13" font-weight="700" text-anchor="middle" dominant-baseline="central" fill="#222" >0.05</text>
<text x="285.7" y="1246.3" font-size="13" font-weight="700" text-anchor="middle" dominant-baseline="central" fill="#222" >0.10</text>
<text x="331.1" y="1246.3" font-size="13" font-weight="700" text-anchor="middle" dominant-baseline="central" fill="#222" >0.15</text>
<text x="376.6" y="1246.3" font-size="13" font-weight="700" text-anchor="middle" dominant-baseline="central" fill="#222" >0.20</text>
<text x="422.1" y="1246.3" font-size="13" font-weight="700" text-anchor="middle" dominant-baseline="central" fill="#222" >0.25</text>
<text x="308.0" y="1264.2" font-size="12.5" font-weight="700" text-anchor="middle" dominant-baseline="central" fill="#222" ><tspan font-weight="500">进给</tspan> f (mm/rev)</text>
<text x="163.5" y="1171.6" font-size="12.5" font-weight="700" text-anchor="middle" dominant-baseline="central" fill="#222" transform="rotate(-90 163.5 1171.6)" textLength="84" lengthAdjust="spacingAndGlyphs"><tspan font-weight="500">刃宽</tspan> CW (mm)</text>
<line x1="518.1" y1="1128.5" x2="747.2" y2="1128.5" stroke="#333333" stroke-width="1.2" stroke-dasharray="3.6 1.4"/>
<line x1="518.1" y1="1151.5" x2="747.2" y2="1151.5" stroke="#333333" stroke-width="1.2" stroke-dasharray="3.6 1.4"/>
<line x1="518.1" y1="1175.5" x2="747.2" y2="1175.5" stroke="#333333" stroke-width="1.2" stroke-dasharray="3.6 1.4"/>
<line x1="518.1" y1="1199.5" x2="747.2" y2="1199.5" stroke="#333333" stroke-width="1.2" stroke-dasharray="3.6 1.4"/>
<rect x="555.5" y="1121.5" width="152.0" height="13" fill="#88d2f2" />
<rect x="628.5" y="1121.5" width="12.8" height="13" fill="#1b8ec0" />
<rect x="555.5" y="1121.5" width="152.0" height="13" fill="none" stroke="#2b4654" stroke-width="1.1"/>
<text x="510.7" y="1128.6" font-size="13" font-weight="700" text-anchor="middle" dominant-baseline="central" fill="#222" >6</text>
<rect x="555.5" y="1144.5" width="152.0" height="13" fill="#88d2f2" />
<rect x="627.5" y="1144.5" width="13.0" height="13" fill="#1b8ec0" />
<rect x="555.5" y="1144.5" width="152.0" height="13" fill="none" stroke="#2b4654" stroke-width="1.1"/>
<text x="510.7" y="1152.1" font-size="13" font-weight="700" text-anchor="middle" dominant-baseline="central" fill="#222" >5</text>
<rect x="555.5" y="1168.5" width="116.0" height="13" fill="#88d2f2" />
<rect x="604.5" y="1168.5" width="12.8" height="13" fill="#1b8ec0" />
<rect x="555.5" y="1168.5" width="116.0" height="13" fill="none" stroke="#2b4654" stroke-width="1.1"/>
<text x="510.7" y="1176.1" font-size="13" font-weight="700" text-anchor="middle" dominant-baseline="central" fill="#222" >4</text>
<rect x="555.5" y="1192.5" width="79.2" height="13" fill="#88d2f2" />
<rect x="589.3" y="1192.5" width="12.6" height="13" fill="#1b8ec0" />
<rect x="555.5" y="1192.5" width="79.2" height="13" fill="none" stroke="#2b4654" stroke-width="1.1"/>
<text x="510.7" y="1200.1" font-size="13" font-weight="700" text-anchor="middle" dominant-baseline="central" fill="#222" >3</text>
<rect x="518.1" y="1102.9" width="229.1" height="138.9" fill="none" stroke="#333333" stroke-width="1.5"/>
<line x1="556.3" y1="1241.8" x2="556.3" y2="1232.3" stroke="#333333" stroke-width="1.5" />
<line x1="594.5" y1="1241.8" x2="594.5" y2="1232.3" stroke="#333333" stroke-width="1.5" />
<line x1="632.7" y1="1241.8" x2="632.7" y2="1232.3" stroke="#333333" stroke-width="1.5" />
<line x1="670.8" y1="1241.8" x2="670.8" y2="1232.3" stroke="#333333" stroke-width="1.5" />
<line x1="709.0" y1="1241.8" x2="709.0" y2="1232.3" stroke="#333333" stroke-width="1.5" />
<text x="556.3" y="1250.3" font-size="13" font-weight="700" text-anchor="middle" dominant-baseline="central" fill="#222" >0.05</text>
<text x="594.5" y="1250.3" font-size="13" font-weight="700" text-anchor="middle" dominant-baseline="central" fill="#222" >0.10</text>
<text x="632.7" y="1250.3" font-size="13" font-weight="700" text-anchor="middle" dominant-baseline="central" fill="#222" >0.15</text>
<text x="670.8" y="1250.3" font-size="13" font-weight="700" text-anchor="middle" dominant-baseline="central" fill="#222" >0.20</text>
<text x="709.0" y="1250.3" font-size="13" font-weight="700" text-anchor="middle" dominant-baseline="central" fill="#222" >0.25</text>
<text x="747.2" y="1250.3" font-size="13" font-weight="700" text-anchor="middle" dominant-baseline="central" fill="#222" >0.30</text>
<text x="637.3" y="1267.7" font-size="12.5" font-weight="700" text-anchor="middle" dominant-baseline="central" fill="#222" ><tspan font-weight="500">进给</tspan> f (mm/rev)</text>
<text x="487.0" y="1172.5" font-size="12.5" font-weight="700" text-anchor="middle" dominant-baseline="central" fill="#222" transform="rotate(-90 487 1172.5)" textLength="84" lengthAdjust="spacingAndGlyphs"><tspan font-weight="500">刃宽</tspan> CW (mm)</text>
<rect x="836" y="1101.8" width="252.9" height="130.0" fill="none" stroke="#333333" stroke-width="1.5"/>
<line x1="878.1" y1="1231.8" x2="878.1" y2="1222.3" stroke="#333333" stroke-width="1.5" />
<line x1="920.3" y1="1231.8" x2="920.3" y2="1222.3" stroke="#333333" stroke-width="1.5" />
<line x1="962.5" y1="1231.8" x2="962.5" y2="1222.3" stroke="#333333" stroke-width="1.5" />
<line x1="1004.6" y1="1231.8" x2="1004.6" y2="1222.3" stroke="#333333" stroke-width="1.5" />
<line x1="1046.8" y1="1231.8" x2="1046.8" y2="1222.3" stroke="#333333" stroke-width="1.5" />
<line x1="836" y1="1127.8" x2="846.0" y2="1127.8" stroke="#333333" stroke-width="1.5" />
<text x="831.0" y="1128.3" font-size="12.5" font-weight="700" text-anchor="end" dominant-baseline="central" fill="#222" >3.0</text>
<line x1="836" y1="1162.2" x2="846.0" y2="1162.2" stroke="#333333" stroke-width="1.5" />
<text x="831.0" y="1162.7" font-size="12.5" font-weight="700" text-anchor="end" dominant-baseline="central" fill="#222" >2.0</text>
<line x1="836" y1="1196.6" x2="846.0" y2="1196.6" stroke="#333333" stroke-width="1.5" />
<text x="831.0" y="1197.1" font-size="12.5" font-weight="700" text-anchor="end" dominant-baseline="central" fill="#222" >1.0</text>
<polygon points="887.4,1160.0 947.5,1160.0 1025.5,1190.6 1025.5,1212.3 887.4,1212.3" fill="none" stroke="#4fbfe9" stroke-width="2.8" stroke-linejoin="miter"/>
<polygon points="884.7,1173.8 923.7,1173.8 1004.4,1196.6 1004.4,1215.5 884.7,1215.5" fill="none" stroke="#8d9ba4" stroke-width="2.8" stroke-linejoin="miter"/>
<polygon points="881.2,1187.9 953.5,1187.9 993.6,1200.9 993.6,1217.7 881.2,1217.7" fill="none" stroke="#78929f" stroke-width="2.8" stroke-linejoin="miter"/>
<polygon points="878.4,1196.6 941.5,1196.6 984.0,1209.6 984.0,1221.0 878.4,1221.0" fill="none" stroke="#1a8cbe" stroke-width="2.8" stroke-linejoin="miter"/>
<text x="890.0" y="1152.2" font-size="10.5" font-weight="500" text-anchor="start" dominant-baseline="central" fill="#4fbfe9"  stroke="#4fbfe9" stroke-width="0.45">CW=6mm</text>
<text x="890.0" y="1168.4" font-size="10.5" font-weight="500" text-anchor="start" dominant-baseline="central" fill="#8d9ba4"  stroke="#8d9ba4" stroke-width="0.45">CW=5mm</text>
<text x="890.0" y="1182.5" font-size="10.5" font-weight="500" text-anchor="start" dominant-baseline="central" fill="#78929f"  stroke="#78929f" stroke-width="0.45">CW=4mm</text>
<text x="890.0" y="1206.3" font-size="10.5" font-weight="500" text-anchor="start" dominant-baseline="central" fill="#1a8cbe"  stroke="#1a8cbe" stroke-width="0.45">CW=3mm</text>
<text x="878.1" y="1242.1" font-size="13" font-weight="700" text-anchor="middle" dominant-baseline="central" fill="#222" >0.05</text>
<text x="920.3" y="1242.1" font-size="13" font-weight="700" text-anchor="middle" dominant-baseline="central" fill="#222" >0.10</text>
<text x="962.5" y="1242.1" font-size="13" font-weight="700" text-anchor="middle" dominant-baseline="central" fill="#222" >0.15</text>
<text x="1004.6" y="1242.1" font-size="13" font-weight="700" text-anchor="middle" dominant-baseline="central" fill="#222" >0.20</text>
<text x="1046.8" y="1242.1" font-size="13" font-weight="700" text-anchor="middle" dominant-baseline="central" fill="#222" >0.25</text>
<text x="1088.9" y="1242.1" font-size="13" font-weight="700" text-anchor="middle" dominant-baseline="central" fill="#222" >0.30</text>
<text x="962.4" y="1261.0" font-size="12.5" font-weight="700" text-anchor="middle" dominant-baseline="central" fill="#222" ><tspan font-weight="500">进给</tspan> f (mm/rev)</text>
<text x="799.0" y="1166.0" font-size="12.5" font-weight="700" text-anchor="middle" dominant-baseline="central" fill="#222" transform="rotate(-90 799 1166)"><tspan font-weight="500">切深</tspan> ap (mm)</text>
<line x1="194.7" y1="1322.5" x2="420.8" y2="1322.5" stroke="#333333" stroke-width="1.2" stroke-dasharray="3.6 1.4"/>
<line x1="194.7" y1="1346.5" x2="420.8" y2="1346.5" stroke="#333333" stroke-width="1.2" stroke-dasharray="3.6 1.4"/>
<line x1="194.7" y1="1370.5" x2="420.8" y2="1370.5" stroke="#333333" stroke-width="1.2" stroke-dasharray="3.6 1.4"/>
<line x1="194.7" y1="1393.5" x2="420.8" y2="1393.5" stroke="#333333" stroke-width="1.2" stroke-dasharray="3.6 1.4"/>
<rect x="251.2" y="1316.5" width="78.1" height="13" fill="#88d2f2" />
<rect x="284.0" y="1316.5" width="12.8" height="13" fill="#1b8ec0" />
<rect x="251.2" y="1316.5" width="78.1" height="13" fill="none" stroke="#2b4654" stroke-width="1.1"/>
<text x="185.5" y="1323.3" font-size="13" font-weight="700" text-anchor="middle" dominant-baseline="central" fill="#222" >6</text>
<rect x="251.2" y="1339.5" width="78.1" height="13" fill="#88d2f2" />
<rect x="284.0" y="1339.5" width="12.8" height="13" fill="#1b8ec0" />
<rect x="251.2" y="1339.5" width="78.1" height="13" fill="none" stroke="#2b4654" stroke-width="1.1"/>
<text x="185.5" y="1347.0" font-size="13" font-weight="700" text-anchor="middle" dominant-baseline="central" fill="#222" >5</text>
<rect x="232.5" y="1363.5" width="61.6" height="13" fill="#88d2f2" />
<rect x="257.9" y="1363.5" width="12.8" height="13" fill="#1b8ec0" />
<rect x="232.5" y="1363.5" width="61.6" height="13" fill="none" stroke="#2b4654" stroke-width="1.1"/>
<text x="185.5" y="1370.7" font-size="13" font-weight="700" text-anchor="middle" dominant-baseline="central" fill="#222" >4</text>
<rect x="232.5" y="1386.5" width="61.6" height="13" fill="#88d2f2" />
<rect x="257.9" y="1386.5" width="12.8" height="13" fill="#1b8ec0" />
<rect x="232.5" y="1386.5" width="61.6" height="13" fill="none" stroke="#2b4654" stroke-width="1.1"/>
<text x="185.5" y="1393.9" font-size="13" font-weight="700" text-anchor="middle" dominant-baseline="central" fill="#222" >3</text>
<rect x="194.7" y="1297.5" width="226.1" height="138.2" fill="none" stroke="#333333" stroke-width="1.5"/>
<line x1="232.4" y1="1435.7" x2="232.4" y2="1426.2" stroke="#333333" stroke-width="1.5" />
<line x1="270.1" y1="1435.7" x2="270.1" y2="1426.2" stroke="#333333" stroke-width="1.5" />
<line x1="307.8" y1="1435.7" x2="307.8" y2="1426.2" stroke="#333333" stroke-width="1.5" />
<line x1="345.4" y1="1435.7" x2="345.4" y2="1426.2" stroke="#333333" stroke-width="1.5" />
<line x1="383.1" y1="1435.7" x2="383.1" y2="1426.2" stroke="#333333" stroke-width="1.5" />
<text x="232.4" y="1443.7" font-size="13" font-weight="700" text-anchor="middle" dominant-baseline="central" fill="#222" >0.05</text>
<text x="270.1" y="1443.7" font-size="13" font-weight="700" text-anchor="middle" dominant-baseline="central" fill="#222" >0.10</text>
<text x="307.8" y="1443.7" font-size="13" font-weight="700" text-anchor="middle" dominant-baseline="central" fill="#222" >0.15</text>
<text x="345.4" y="1443.7" font-size="13" font-weight="700" text-anchor="middle" dominant-baseline="central" fill="#222" >0.20</text>
<text x="383.1" y="1443.7" font-size="13" font-weight="700" text-anchor="middle" dominant-baseline="central" fill="#222" >0.25</text>
<text x="420.8" y="1443.7" font-size="13" font-weight="700" text-anchor="middle" dominant-baseline="central" fill="#222" >0.30</text>
<text x="306.7" y="1461.0" font-size="12.5" font-weight="700" text-anchor="middle" dominant-baseline="central" fill="#222" ><tspan font-weight="500">进给</tspan> f (mm/rev)</text>
<text x="163.5" y="1365.0" font-size="12.5" font-weight="700" text-anchor="middle" dominant-baseline="central" fill="#222" transform="rotate(-90 163.5 1365)" textLength="84" lengthAdjust="spacingAndGlyphs"><tspan font-weight="500">刃宽</tspan> CW (mm)</text>
<line x1="516.8" y1="1323.5" x2="745.9" y2="1323.5" stroke="#333333" stroke-width="1.2" stroke-dasharray="3.6 1.4"/>
<line x1="516.8" y1="1347.5" x2="745.9" y2="1347.5" stroke="#333333" stroke-width="1.2" stroke-dasharray="3.6 1.4"/>
<line x1="516.8" y1="1371.5" x2="745.9" y2="1371.5" stroke="#333333" stroke-width="1.2" stroke-dasharray="3.6 1.4"/>
<line x1="516.8" y1="1394.5" x2="745.9" y2="1394.5" stroke="#333333" stroke-width="1.2" stroke-dasharray="3.6 1.4"/>
<rect x="555.2" y="1316.5" width="142.9" height="13" fill="#88d2f2" />
<rect x="622.7" y="1316.5" width="11.2" height="13" fill="#1b8ec0" />
<rect x="555.2" y="1316.5" width="142.9" height="13" fill="none" stroke="#2b4654" stroke-width="1.1"/>
<text x="508.5" y="1324.1" font-size="13" font-weight="700" text-anchor="middle" dominant-baseline="central" fill="#222" >6</text>
<rect x="555.2" y="1340.5" width="142.9" height="13" fill="#88d2f2" />
<rect x="622.7" y="1340.5" width="11.2" height="13" fill="#1b8ec0" />
<rect x="555.2" y="1340.5" width="142.9" height="13" fill="none" stroke="#2b4654" stroke-width="1.1"/>
<text x="508.5" y="1347.5" font-size="13" font-weight="700" text-anchor="middle" dominant-baseline="central" fill="#222" >5</text>
<rect x="555.2" y="1364.5" width="114.7" height="13" fill="#88d2f2" />
<rect x="604.0" y="1364.5" width="12.5" height="13" fill="#1b8ec0" />
<rect x="555.2" y="1364.5" width="114.7" height="13" fill="none" stroke="#2b4654" stroke-width="1.1"/>
<text x="508.5" y="1371.5" font-size="13" font-weight="700" text-anchor="middle" dominant-baseline="central" fill="#222" >4</text>
<rect x="555.2" y="1388.5" width="94.9" height="13" fill="#88d2f2" />
<rect x="587.5" y="1388.5" width="12.0" height="13" fill="#1b8ec0" />
<rect x="555.2" y="1388.5" width="94.9" height="13" fill="none" stroke="#2b4654" stroke-width="1.1"/>
<text x="508.5" y="1395.3" font-size="13" font-weight="700" text-anchor="middle" dominant-baseline="central" fill="#222" >3</text>
<rect x="516.8" y="1297.8" width="229.1" height="139.7" fill="none" stroke="#333333" stroke-width="1.5"/>
<line x1="555.0" y1="1437.5" x2="555.0" y2="1428.0" stroke="#333333" stroke-width="1.5" />
<line x1="593.2" y1="1437.5" x2="593.2" y2="1428.0" stroke="#333333" stroke-width="1.5" />
<line x1="631.3" y1="1437.5" x2="631.3" y2="1428.0" stroke="#333333" stroke-width="1.5" />
<line x1="669.5" y1="1437.5" x2="669.5" y2="1428.0" stroke="#333333" stroke-width="1.5" />
<line x1="707.7" y1="1437.5" x2="707.7" y2="1428.0" stroke="#333333" stroke-width="1.5" />
<text x="555.0" y="1446.3" font-size="13" font-weight="700" text-anchor="middle" dominant-baseline="central" fill="#222" >0.05</text>
<text x="593.2" y="1446.3" font-size="13" font-weight="700" text-anchor="middle" dominant-baseline="central" fill="#222" >0.10</text>
<text x="631.3" y="1446.3" font-size="13" font-weight="700" text-anchor="middle" dominant-baseline="central" fill="#222" >0.15</text>
<text x="669.5" y="1446.3" font-size="13" font-weight="700" text-anchor="middle" dominant-baseline="central" fill="#222" >0.20</text>
<text x="707.7" y="1446.3" font-size="13" font-weight="700" text-anchor="middle" dominant-baseline="central" fill="#222" >0.25</text>
<text x="745.9" y="1446.3" font-size="13" font-weight="700" text-anchor="middle" dominant-baseline="central" fill="#222" >0.30</text>
<text x="639.2" y="1462.3" font-size="12.5" font-weight="700" text-anchor="middle" dominant-baseline="central" fill="#222" ><tspan font-weight="500">进给</tspan> f (mm/rev)</text>
<text x="487.0" y="1367.0" font-size="12.5" font-weight="700" text-anchor="middle" dominant-baseline="central" fill="#222" transform="rotate(-90 487 1367)" textLength="84" lengthAdjust="spacingAndGlyphs"><tspan font-weight="500">刃宽</tspan> CW (mm)</text>
<rect x="836" y="1298.5" width="252.9" height="130.1" fill="none" stroke="#333333" stroke-width="1.5"/>
<line x1="878.4" y1="1428.6" x2="878.4" y2="1419.1" stroke="#333333" stroke-width="1.5" />
<line x1="901.8" y1="1428.6" x2="901.8" y2="1419.1" stroke="#333333" stroke-width="1.5" />
<line x1="925.2" y1="1428.6" x2="925.2" y2="1419.1" stroke="#333333" stroke-width="1.5" />
<line x1="948.6" y1="1428.6" x2="948.6" y2="1419.1" stroke="#333333" stroke-width="1.5" />
<line x1="972.0" y1="1428.6" x2="972.0" y2="1419.1" stroke="#333333" stroke-width="1.5" />
<line x1="995.4" y1="1428.6" x2="995.4" y2="1419.1" stroke="#333333" stroke-width="1.5" />
<line x1="1018.8" y1="1428.6" x2="1018.8" y2="1419.1" stroke="#333333" stroke-width="1.5" />
<line x1="1042.2" y1="1428.6" x2="1042.2" y2="1419.1" stroke="#333333" stroke-width="1.5" />
<line x1="1065.6" y1="1428.6" x2="1065.6" y2="1419.1" stroke="#333333" stroke-width="1.5" />
<line x1="836" y1="1324.3" x2="846.0" y2="1324.3" stroke="#333333" stroke-width="1.5" />
<text x="831.0" y="1324.8" font-size="12.5" font-weight="700" text-anchor="end" dominant-baseline="central" fill="#222" >3.0</text>
<line x1="836" y1="1358.9" x2="846.0" y2="1358.9" stroke="#333333" stroke-width="1.5" />
<text x="831.0" y="1359.4" font-size="12.5" font-weight="700" text-anchor="end" dominant-baseline="central" fill="#222" >2.0</text>
<line x1="836" y1="1393.9" x2="846.0" y2="1393.9" stroke="#333333" stroke-width="1.5" />
<text x="831.0" y="1394.4" font-size="12.5" font-weight="700" text-anchor="end" dominant-baseline="central" fill="#222" >1.0</text>
<polygon points="877.9,1324.3 971.9,1324.3 1041.8,1398.2 1041.8,1409.6 877.9,1409.6" fill="none" stroke="#4fbfe9" stroke-width="2.8" stroke-linejoin="miter"/>
<polygon points="877.9,1343.8 950.8,1343.8 1018.7,1402.0 1018.7,1412.3 877.9,1412.3" fill="none" stroke="#8d9ba4" stroke-width="2.8" stroke-linejoin="miter"/>
<polygon points="877.9,1360.0 924.5,1360.0 995.5,1390.6 995.5,1415.0 877.9,1415.0" fill="none" stroke="#78929f" stroke-width="2.8" stroke-linejoin="miter"/>
<polygon points="877.9,1377.9 905.5,1377.9 971.9,1402.0 971.9,1417.7 877.9,1417.7" fill="none" stroke="#1a8cbe" stroke-width="2.8" stroke-linejoin="miter"/>
<text x="886.6" y="1317.0" font-size="10.5" font-weight="500" text-anchor="start" dominant-baseline="central" fill="#4fbfe9"  stroke="#4fbfe9" stroke-width="0.45">CW=6mm</text>
<text x="886.6" y="1337.8" font-size="10.5" font-weight="500" text-anchor="start" dominant-baseline="central" fill="#8d9ba4"  stroke="#8d9ba4" stroke-width="0.45">CW=5mm</text>
<text x="886.6" y="1354.9" font-size="10.5" font-weight="500" text-anchor="start" dominant-baseline="central" fill="#78929f"  stroke="#78929f" stroke-width="0.45">CW=4mm</text>
<text x="886.6" y="1392.5" font-size="10.5" font-weight="500" text-anchor="start" dominant-baseline="central" fill="#1a8cbe"  stroke="#1a8cbe" stroke-width="0.45">CW=3mm</text>
<text x="901.8" y="1439.4" font-size="13" font-weight="700" text-anchor="middle" dominant-baseline="central" fill="#222" >0.10</text>
<text x="948.6" y="1439.4" font-size="13" font-weight="700" text-anchor="middle" dominant-baseline="central" fill="#222" >0.20</text>
<text x="995.4" y="1439.4" font-size="13" font-weight="700" text-anchor="middle" dominant-baseline="central" fill="#222" >0.30</text>
<text x="1042.2" y="1439.4" font-size="13" font-weight="700" text-anchor="middle" dominant-baseline="central" fill="#222" >0.40</text>
<text x="1088.9" y="1439.4" font-size="13" font-weight="700" text-anchor="middle" dominant-baseline="central" fill="#222" >0.50</text>
<text x="962.4" y="1457.5" font-size="12.5" font-weight="700" text-anchor="middle" dominant-baseline="central" fill="#222" ><tspan font-weight="500">进给</tspan> f (mm/rev)</text>
<text x="799.0" y="1363.0" font-size="12.5" font-weight="700" text-anchor="middle" dominant-baseline="central" fill="#222" transform="rotate(-90 799 1363)"><tspan font-weight="500">切深</tspan> ap (mm)</text>
<text x="109.3" y="705.5" font-size="19.5" font-weight="400" text-anchor="middle" dominant-baseline="central" fill="#222"  textLength="30" lengthAdjust="spacingAndGlyphs">GM</text>
<text x="109.3" y="718.5" font-size="15.120000000000001" font-weight="400" text-anchor="middle" dominant-baseline="central" fill="#222" transform="rotate(90 109.3 718.5)">(</text>
<text x="109.3" y="730.7" font-size="16.8" font-weight="400" text-anchor="middle" dominant-baseline="central" fill="#222" transform="matrix(1 0 0 0.9 0 73.07)">切</text>
<text x="109.3" y="746.3" font-size="16.8" font-weight="400" text-anchor="middle" dominant-baseline="central" fill="#222" transform="matrix(1 0 0 0.9 0 74.63)">槽</text>
<text x="109.3" y="765.0" font-size="16.8" font-weight="400" text-anchor="middle" dominant-baseline="central" fill="#222" transform="matrix(1 0 0 0.9 0 76.50)">・</text>
<text x="109.3" y="782.5" font-size="16.8" font-weight="400" text-anchor="middle" dominant-baseline="central" fill="#222" transform="matrix(1 0 0 0.9 0 78.25)">横</text>
<text x="109.3" y="798.2" font-size="16.8" font-weight="400" text-anchor="middle" dominant-baseline="central" fill="#222" transform="matrix(1 0 0 0.9 0 79.82)">向</text>
<text x="109.3" y="814.0" font-size="16.8" font-weight="400" text-anchor="middle" dominant-baseline="central" fill="#222" transform="matrix(1 0 0 0.9 0 81.40)">进</text>
<text x="109.3" y="829.7" font-size="16.8" font-weight="400" text-anchor="middle" dominant-baseline="central" fill="#222" transform="matrix(1 0 0 0.9 0 82.97)">给</text>
<text x="109.3" y="845.3" font-size="16.8" font-weight="400" text-anchor="middle" dominant-baseline="central" fill="#222" transform="matrix(1 0 0 0.9 0 84.53)">加</text>
<text x="109.3" y="860.5" font-size="16.8" font-weight="400" text-anchor="middle" dominant-baseline="central" fill="#222" transform="matrix(1 0 0 0.9 0 86.05)">工</text>
<text x="109.3" y="874.3" font-size="15.120000000000001" font-weight="400" text-anchor="middle" dominant-baseline="central" fill="#222" transform="rotate(90 109.3 874.3)">)</text>
<text x="109.3" y="1106.0" font-size="19.5" font-weight="400" text-anchor="middle" dominant-baseline="central" fill="#222"  textLength="29" lengthAdjust="spacingAndGlyphs">DM</text>
<text x="109.3" y="1118.8" font-size="15.120000000000001" font-weight="400" text-anchor="middle" dominant-baseline="central" fill="#222" transform="rotate(90 109.3 1118.8)">(</text>
<text x="109.3" y="1131.0" font-size="16.8" font-weight="400" text-anchor="middle" dominant-baseline="central" fill="#222" transform="matrix(1 0 0 0.9 0 113.10)">深</text>
<text x="109.3" y="1146.6" font-size="16.8" font-weight="400" text-anchor="middle" dominant-baseline="central" fill="#222" transform="matrix(1 0 0 0.9 0 114.66)">槽</text>
<text x="109.3" y="1165.3" font-size="16.8" font-weight="400" text-anchor="middle" dominant-baseline="central" fill="#222" transform="matrix(1 0 0 0.9 0 116.53)">・</text>
<text x="109.3" y="1182.8" font-size="16.8" font-weight="400" text-anchor="middle" dominant-baseline="central" fill="#222" transform="matrix(1 0 0 0.9 0 118.28)">横</text>
<text x="109.3" y="1198.5" font-size="16.8" font-weight="400" text-anchor="middle" dominant-baseline="central" fill="#222" transform="matrix(1 0 0 0.9 0 119.85)">向</text>
<text x="109.3" y="1214.3" font-size="16.8" font-weight="400" text-anchor="middle" dominant-baseline="central" fill="#222" transform="matrix(1 0 0 0.9 0 121.43)">进</text>
<text x="109.3" y="1230.0" font-size="16.8" font-weight="400" text-anchor="middle" dominant-baseline="central" fill="#222" transform="matrix(1 0 0 0.9 0 123.00)">给</text>
<text x="109.3" y="1245.6" font-size="16.8" font-weight="400" text-anchor="middle" dominant-baseline="central" fill="#222" transform="matrix(1 0 0 0.9 0 124.56)">加</text>
<text x="109.3" y="1260.8" font-size="16.8" font-weight="400" text-anchor="middle" dominant-baseline="central" fill="#222" transform="matrix(1 0 0 0.9 0 126.08)">工</text>
<text x="109.3" y="1274.6" font-size="15.120000000000001" font-weight="400" text-anchor="middle" dominant-baseline="central" fill="#222" transform="rotate(90 109.3 1274.6)">)</text>
<text x="109.3" y="910.5" font-size="17.5" font-weight="400" text-anchor="middle" dominant-baseline="central" fill="#222"  textLength="27.7" lengthAdjust="spacingAndGlyphs">GH</text>
<text x="109.3" y="923.7" font-size="15.3" font-weight="400" text-anchor="middle" dominant-baseline="central" fill="#222" transform="rotate(90 109.3 923.7)">(</text>
<text x="109.3" y="933.5" font-size="17" font-weight="500" text-anchor="middle" dominant-baseline="central" fill="#222" transform="matrix(1 0 0 0.72 0 261.38)">切</text>
<text x="109.3" y="947.3" font-size="17" font-weight="500" text-anchor="middle" dominant-baseline="central" fill="#222" transform="matrix(1 0 0 0.72 0 265.24)">槽</text>
<text x="109.3" y="959.3" font-size="17" font-weight="500" text-anchor="middle" dominant-baseline="central" fill="#222" transform="matrix(1 0 0 0.72 0 268.60)">・</text>
<text x="109.3" y="971.0" font-size="17" font-weight="500" text-anchor="middle" dominant-baseline="central" fill="#222" transform="matrix(1 0 0 0.72 0 271.88)">横</text>
<text x="109.3" y="984.0" font-size="17" font-weight="500" text-anchor="middle" dominant-baseline="central" fill="#222" transform="matrix(1 0 0 0.72 0 275.52)">向</text>
<text x="109.3" y="997.4" font-size="17" font-weight="500" text-anchor="middle" dominant-baseline="central" fill="#222" transform="matrix(1 0 0 0.72 0 279.27)">进</text>
<text x="109.3" y="1010.6" font-size="17" font-weight="500" text-anchor="middle" dominant-baseline="central" fill="#222" transform="matrix(1 0 0 0.72 0 282.97)">给</text>
<text x="109.3" y="1022.0" font-size="17" font-weight="500" text-anchor="middle" dominant-baseline="central" fill="#222" transform="matrix(1 0 0 0.72 0 286.16)">・</text>
<text x="109.3" y="1033.6" font-size="17" font-weight="500" text-anchor="middle" dominant-baseline="central" fill="#222" transform="matrix(1 0 0 0.72 0 289.41)">高</text>
<text x="109.3" y="1047.0" font-size="17" font-weight="500" text-anchor="middle" dominant-baseline="central" fill="#222" transform="matrix(1 0 0 0.72 0 293.16)">进</text>
<text x="109.3" y="1060.0" font-size="17" font-weight="500" text-anchor="middle" dominant-baseline="central" fill="#222" transform="matrix(1 0 0 0.72 0 296.80)">给</text>
<text x="109.3" y="1071.6" font-size="15.3" font-weight="400" text-anchor="middle" dominant-baseline="central" fill="#222" transform="rotate(90 109.3 1071.6)">)</text>
<text x="109.3" y="1342.2" font-size="20" font-weight="400" text-anchor="middle" dominant-baseline="central" fill="#222"  textLength="28" lengthAdjust="spacingAndGlyphs">CM</text>
<text x="109.3" y="1356.4" font-size="16.2" font-weight="400" text-anchor="middle" dominant-baseline="central" fill="#222" transform="rotate(90 109.3 1356.4)">(</text>
<text x="109.3" y="1370.6" font-size="18" font-weight="400" text-anchor="middle" dominant-baseline="central" fill="#222" transform="matrix(1 0 0 1.0 0 0.00)">仿</text>
<text x="109.3" y="1388.2" font-size="18" font-weight="400" text-anchor="middle" dominant-baseline="central" fill="#222" transform="matrix(1 0 0 1.0 0 0.00)">形</text>
<text x="109.3" y="1406.5" font-size="18" font-weight="400" text-anchor="middle" dominant-baseline="central" fill="#222" transform="matrix(1 0 0 1.0 0 0.00)">加</text>
<text x="109.3" y="1425.4" font-size="18" font-weight="400" text-anchor="middle" dominant-baseline="central" fill="#222" transform="matrix(1 0 0 1.0 0 0.00)">工</text>
<text x="109.3" y="1438.0" font-size="16.2" font-weight="400" text-anchor="middle" dominant-baseline="central" fill="#222" transform="rotate(90 109.3 1438.0)">)</text>
<text x="109.5" y="574.0" font-size="18" font-weight="400" text-anchor="middle" dominant-baseline="central" fill="#222" >断</text>
<text x="109.5" y="593.0" font-size="18" font-weight="400" text-anchor="middle" dominant-baseline="central" fill="#222" >屑</text>
<text x="109.5" y="612.0" font-size="18" font-weight="400" text-anchor="middle" dominant-baseline="central" fill="#222" >槽</text>
<defs><pattern id="hatch" patternUnits="userSpaceOnUse" width="2.7" height="2.7" patternTransform="rotate(45)">
<rect width="2.7" height="2.7" fill="#fff"/><line x1="0" y1="0" x2="0" y2="2.7" stroke="#333" stroke-width="1.1"/></pattern></defs>
<path d="M243.5 555 H254 V598 H204 V627 H254 V675 H243.5 V638 H207 Q194 638 194 625 V601 Q194 588 207 588 H243.5 Z" fill="#cfcfcf"/>
<path d="M203.5 599 L240.5 601.8 Q235.5 612.5 241 623.3 L203.5 626 Z" fill="url(#hatch)" stroke="#222" stroke-width="1.2"/>
<line x1="254" y1="554" x2="254" y2="598.5" stroke="#2a2a2a" stroke-width="1.6" />
<line x1="254" y1="626" x2="254" y2="675" stroke="#2a2a2a" stroke-width="1.6" />
<line x1="166" y1="598.5" x2="254" y2="598.5" stroke="#2a2a2a" stroke-width="1.1" />
<line x1="166" y1="625.8" x2="254" y2="625.8" stroke="#2a2a2a" stroke-width="1.1" />
<line x1="240.5" y1="601.9" x2="303" y2="601.9" stroke="#2a2a2a" stroke-width="1.3" />
<line x1="241" y1="623.3" x2="303" y2="623.3" stroke="#2a2a2a" stroke-width="1.3" />
<line x1="216.3" y1="627" x2="216.3" y2="651.2" stroke="#444" stroke-width="1" stroke-dasharray="3 2"/>
<line x1="216.3" y1="651.2" x2="254" y2="651.2" stroke="#444" stroke-width="1" stroke-dasharray="3 2"/>
<line x1="254" y1="651.2" x2="303" y2="651.2" stroke="#2a2a2a" stroke-width="1.3" />
<line x1="177.6" y1="544" x2="177.6" y2="648.4" stroke="#888" stroke-width="1.2" />
<path d="M175.7 588.5 L179.5 588.5 L177.6 598.5 Z" fill="#2a2a2a"/>
<path d="M175.7 636.0 L179.5 636.0 L177.6 626 Z" fill="#2a2a2a"/>
<text x="169.5" y="560.2" font-size="17" font-weight="400" text-anchor="middle" dominant-baseline="central" fill="#222" transform="rotate(-90 169.5 560.2)" textLength="14.5" lengthAdjust="spacingAndGlyphs">W</text>
<path d="M265.4 586.7 L274.4 581.9000000000001 L274.4 585.1 L291.6 585.1 L291.6 588.3000000000001 L274.4 588.3000000000001 L274.4 591.5 Z" fill="#1a1a1a"/>
<text x="302.5" y="580.5" font-size="29" font-weight="400" text-anchor="middle" dominant-baseline="central" fill="#1a1a1a" >f</text>
<text x="319.3" y="642.8" font-size="14.5" font-weight="400" text-anchor="start" dominant-baseline="central" fill="#444"  textLength="69.5" lengthAdjust="spacingAndGlyphs">下面图表的</text>
<text x="396.3" y="642.0" font-size="22" font-weight="400" text-anchor="middle" dominant-baseline="central" fill="#1b8fc0" >■</text>
<text x="403.8" y="642.8" font-size="14.5" font-weight="400" text-anchor="start" dominant-baseline="central" fill="#444"  textLength="42" lengthAdjust="spacingAndGlyphs">部示为</text>
<text x="318.0" y="659.1" font-size="14.5" font-weight="400" text-anchor="start" dominant-baseline="central" fill="#444"  textLength="100.5" lengthAdjust="spacingAndGlyphs">进给(f)的中心值</text>
<rect x="497" y="601" width="38" height="14" fill="#cfcfcf" />
<path d="M535 615 H584.8 V669.6 H574 V625.7 H534 Q524 625.7 522 615 Z" fill="#cfcfcf"/>
<path d="M535 587.5 L571.4 590.3 Q566 601 572 612.2 L535 615 Z" fill="url(#hatch)" stroke="#222" stroke-width="1.2"/>
<line x1="497" y1="601" x2="535" y2="601" stroke="#2a2a2a" stroke-width="1.3" />
<line x1="497" y1="587.5" x2="535" y2="587.5" stroke="#2a2a2a" stroke-width="1.1" />
<line x1="497" y1="615" x2="585" y2="615" stroke="#2a2a2a" stroke-width="1.3" />
<line x1="585" y1="614.4" x2="585" y2="670" stroke="#2a2a2a" stroke-width="1.6" />
<line x1="571.4" y1="590.3" x2="633.7" y2="590.3" stroke="#2a2a2a" stroke-width="1.3" />
<line x1="572" y1="612.2" x2="633.7" y2="612.2" stroke="#2a2a2a" stroke-width="1.3" />
<line x1="508.8" y1="546.4" x2="508.8" y2="637" stroke="#888" stroke-width="1.1" />
<path d="M506.9 577.5 L510.7 577.5 L508.8 587.5 Z" fill="#2a2a2a"/>
<path d="M506.9 625.0 L510.7 625.0 L508.8 615 Z" fill="#2a2a2a"/>
<text x="500.5" y="561.3" font-size="15.5" font-weight="400" text-anchor="middle" dominant-baseline="central" fill="#222" transform="rotate(-90 500.5 561.3)">CW</text>
<path d="M596 575.4 L605 570.6 L605 573.8 L622.4 573.8 L622.4 577.0 L605 577.0 L605 580.1999999999999 Z" fill="#1a1a1a"/>
<text x="633.3" y="569.5" font-size="29" font-weight="400" text-anchor="middle" dominant-baseline="central" fill="#1a1a1a" >f</text>
<text x="642.3" y="642.8" font-size="14.5" font-weight="400" text-anchor="start" dominant-baseline="central" fill="#444"  textLength="69.5" lengthAdjust="spacingAndGlyphs">下面图表的</text>
<text x="719.3" y="642.0" font-size="22" font-weight="400" text-anchor="middle" dominant-baseline="central" fill="#1b8fc0" >■</text>
<text x="726.8" y="642.8" font-size="14.5" font-weight="400" text-anchor="start" dominant-baseline="central" fill="#444"  textLength="42" lengthAdjust="spacingAndGlyphs">部示为</text>
<text x="641.0" y="659.1" font-size="14.5" font-weight="400" text-anchor="start" dominant-baseline="central" fill="#444"  textLength="100.5" lengthAdjust="spacingAndGlyphs">进给(f)的中心值</text>
<path d="M916 557 C919 552.5 923 552.5 926.5 555.5 C930 558.5 934 558.5 937 555.5" fill="none" stroke="#333" stroke-width="1"/>
<path d="M934.5 670.5 C937.5 667 941.5 667 945 670 C948.5 673 952.5 673 955.3 669.5" fill="none" stroke="#333" stroke-width="1"/>
<path d="M937 581.5 L969 583.3 L973.2 586.5 L968.6 598.5 L973.2 610.8 L969 614.3 L937 616.4 Z" fill="#b9b9b9" stroke="#333" stroke-width="0.9"/>
<line x1="973" y1="585.6" x2="992" y2="585.6" stroke="#555" stroke-width="3" />
<line x1="973" y1="585.6" x2="992" y2="585.6" stroke="#bdbdbd" stroke-width="1.6" />
<line x1="973" y1="611.6" x2="992" y2="611.6" stroke="#555" stroke-width="3" />
<line x1="973" y1="611.6" x2="992" y2="611.6" stroke="#bdbdbd" stroke-width="1.6" />
<rect x="937" y="616.4" width="18.3" height="7.6" fill="#e2e2e2" />
<line x1="937" y1="555.5" x2="937" y2="656" stroke="#333" stroke-width="1.1" />
<line x1="955.3" y1="616.4" x2="955.3" y2="670" stroke="#333" stroke-width="1.1" />
<line x1="911.4" y1="581.5" x2="937" y2="581.5" stroke="#333" stroke-width="1.1" />
<line x1="911" y1="616.4" x2="955.3" y2="616.4" stroke="#333" stroke-width="1.1" />
<line x1="911" y1="624" x2="955.3" y2="624" stroke="#333" stroke-width="1.1" />
<path d="M955.3 624 L971 620 H992" fill="none" stroke="#555" stroke-width="1" stroke-dasharray="2.5 1.8"/>
<line x1="912.5" y1="581.5" x2="912.5" y2="637.5" stroke="#333" stroke-width="0.9" />
<path d="M911.1 587.5 L913.9 587.5 L912.5 581.5 Z" fill="#2a2a2a"/>
<path d="M911.1 610.4 L913.9 610.4 L912.5 616.4 Z" fill="#2a2a2a"/>
<path d="M911.1 630.0 L913.9 630.0 L912.5 624 Z" fill="#2a2a2a"/>
<text x="905.5" y="598.4" font-size="12.5" font-weight="400" text-anchor="middle" dominant-baseline="central" fill="#222" transform="rotate(-90 905.5 598.4)">CW</text>
<text x="905.0" y="631.4" font-size="12.5" font-weight="400" text-anchor="middle" dominant-baseline="central" fill="#222" transform="rotate(-90 905 631.4)">f</text>
<text x="946.2" y="644.2" font-size="12" font-weight="400" text-anchor="middle" dominant-baseline="central" fill="#333" >ap</text>
<line x1="937" y1="654.3" x2="955.3" y2="654.3" stroke="#333" stroke-width="0.9" />
<path d="M942.0 653.0 L942.0 655.6 L937 654.3 Z" fill="#2a2a2a"/>
<path d="M950.3 653.0 L950.3 655.6 L955.3 654.3 Z" fill="#2a2a2a"/>
<path d="M967 632.6 H970.6 V643.5 H973.2 L968.8 652.3 L964.4 643.5 H967 Z" fill="#1a1a1a"/>
<rect x="87" y="500.8" width="1023" height="982.9" fill="none" stroke="#3a3a3a" stroke-width="1.9"/>
<rect x="0" y="611" width="40" height="77" fill="#1a8dbd" />
<rect x="0" y="688" width="40" height="134" fill="#c8e1ee" />
<text x="27.4" y="650.0" font-size="25.5" font-weight="700" text-anchor="middle" dominant-baseline="central" fill="#fff" >G</text>
<text x="25.0" y="731.5" font-size="16" font-weight="500" text-anchor="middle" dominant-baseline="central" fill="#1a1a1a" >切</text>
<text x="25.0" y="746.8" font-size="16" font-weight="500" text-anchor="middle" dominant-baseline="central" fill="#1a1a1a" >槽</text>
<text x="25.0" y="762.1" font-size="16" font-weight="500" text-anchor="middle" dominant-baseline="central" fill="#1a1a1a" >加</text>
<text x="25.0" y="777.4" font-size="16" font-weight="500" text-anchor="middle" dominant-baseline="central" fill="#1a1a1a" >工</text>
<rect x="0" y="903" width="61" height="40" fill="#c8e1ee" />
<path d="M0 822.5 H61.5 V943 M0 862.5 H61.5 M0 902.5 H61.5" fill="none" stroke="#8fbfcf" stroke-width="1"/>
<rect x="0" y="942" width="62" height="3" fill="#2a8ab5" />
<text x="33.3" y="843.0" font-size="15.5" font-weight="400" text-anchor="middle" dominant-baseline="central" fill="#222" >外径</text>
<text x="33.3" y="883.0" font-size="15.5" font-weight="400" text-anchor="middle" dominant-baseline="central" fill="#222" >内径</text>
<text x="33.3" y="923.0" font-size="15.5" font-weight="400" text-anchor="middle" dominant-baseline="central" fill="#222" >端面</text>
<text x="86.5" y="1501.4" font-size="15.5" font-weight="400" text-anchor="start" dominant-baseline="central" fill="#333"  textLength="174.5" lengthAdjust="spacingAndGlyphs"><tspan font-family="'Noto Sans CJK SC', sans-serif">●</tspan>台阶加工(侧面加工)时</text>
<text x="105.5" y="1522.5" font-size="15.5" font-weight="400" text-anchor="start" dominant-baseline="central" fill="#333"  textLength="236" lengthAdjust="spacingAndGlyphs">・切深很小时,推荐提高进给(f)。</text>
<text x="105.5" y="1541.5" font-size="15.5" font-weight="400" text-anchor="start" dominant-baseline="central" fill="#333"  textLength="236" lengthAdjust="spacingAndGlyphs">・切深很大时,推荐降低进给(f)。</text>
<text x="87.2" y="1576.0" font-size="15" font-weight="400" text-anchor="start" dominant-baseline="central" fill="#333"  textLength="342" lengthAdjust="spacingAndGlyphs">1) 上述指的是刀杆的CDX 为15mm 以下时的情况。</text>
<text x="87.2" y="1596.0" font-size="15" font-weight="400" text-anchor="start" dominant-baseline="central" fill="#333"  textLength="459" lengthAdjust="spacingAndGlyphs">2) 刀杆的CDX超过15mm时候、横向进给的参数请调整为90%以下。</text>
<text x="28.8" y="1663.0" font-size="27.5" font-weight="700" text-anchor="start" dominant-baseline="central" fill="#1a1a1a" >G96</text>
</svg>
<div style="position:absolute;left:97px;top:24px;font-size:36.5px;font-weight:700;letter-spacing:-0.2px;color:#1a1a1a;white-space:nowrap">推荐切削参数</div>
<div style="position:absolute;left:110px;top:101px;font-size:20.5px;font-weight:500;color:#231f20;white-space:nowrap;line-height:28px">推荐切削参数(切削速度)</div>
<div style="position:absolute;left:110px;top:464px;font-size:20.5px;font-weight:500;color:#231f20;white-space:nowrap;line-height:28px">推荐切削参数(进给・切深)</div>
</body></html>
